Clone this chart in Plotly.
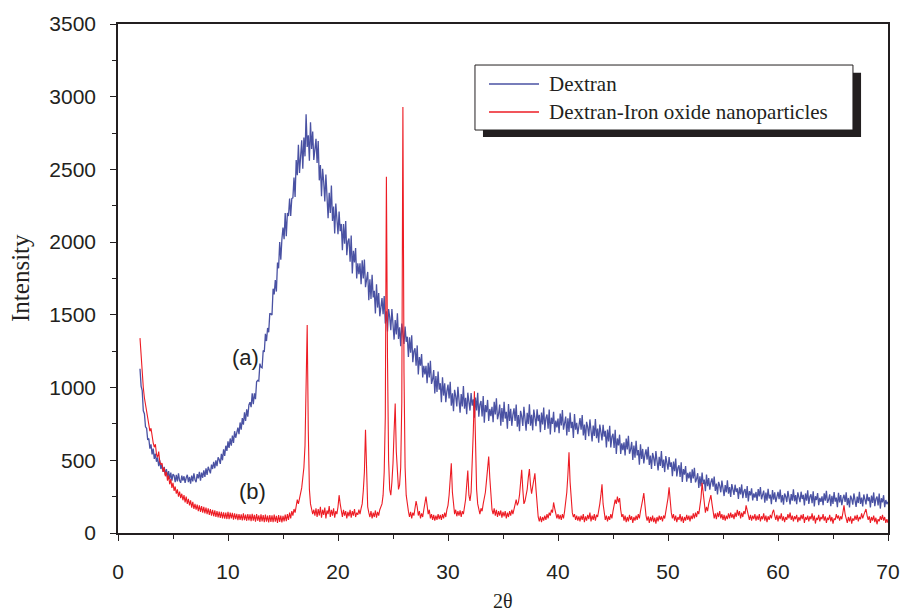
import plotly.graph_objects as go

# 2-theta sampling (start, step) shared by both scans
TT_START = 2.0
TT_STEP = 0.1

# Dextran intensity (2θ = 2.0 ... 70.0, step 0.1)
dextran = [
    1130, 1010, 980, 840, 820, 730, 720, 640, 650, 580, 610, 540, 580, 510, 545, 490, 520, 460, 500, 440,
    470, 420, 455, 400, 440, 385, 425, 370, 415, 360, 405, 395, 350, 400, 355, 410, 360, 345, 395, 360,
    390, 345, 380, 400, 350, 385, 340, 395, 355, 410, 365, 350, 405, 375, 420, 360, 415, 380, 430, 385,
    445, 400, 455, 430, 410, 470, 440, 490, 445, 500, 460, 520, 505, 475, 545, 500, 575, 530, 600, 565,
    630, 585, 650, 600, 670, 620, 700, 655, 690, 725, 680, 760, 710, 790, 745, 830, 770, 850, 800, 880,
    900, 865, 960, 885, 960, 920, 1040, 1050, 1045, 1165, 1140, 1135, 1255, 1245, 1370, 1320, 1410, 1380, 1510, 1505,
    1500, 1680, 1640, 1740, 1660, 1860, 1820, 2000, 1880, 2020, 2100, 2020, 2200, 2040, 2200, 2180, 2300, 2180, 2300, 2305,
    2445, 2310, 2565, 2460, 2670, 2475, 2565, 2700, 2505, 2720, 2590, 2880, 2655, 2735, 2560, 2825, 2640, 2760, 2565, 2660,
    2710, 2545, 2695, 2425, 2530, 2315, 2505, 2415, 2280, 2465, 2290, 2165, 2340, 2200, 2390, 2145, 2245, 2060, 2265, 2125,
    2055, 2210, 2075, 2125, 1945, 2125, 1990, 2145, 1910, 2005, 2025, 1865, 2045, 1785, 1940, 1860, 1960, 1750, 1855, 1780,
    1855, 1710, 1875, 1750, 1880, 1690, 1730, 1795, 1600, 1745, 1610, 1775, 1620, 1665, 1510, 1710, 1550, 1650, 1490, 1575,
    1615, 1505, 1630, 1440, 1525, 1385, 1540, 1485, 1395, 1540, 1420, 1330, 1465, 1365, 1510, 1335, 1415, 1285, 1440, 1345,
    1300, 1420, 1315, 1350, 1210, 1345, 1240, 1360, 1175, 1250, 1270, 1150, 1290, 1090, 1210, 1150, 1230, 1070, 1150, 1090,
    1150, 1030, 1170, 1070, 1185, 1025, 1055, 1120, 960, 1080, 970, 1110, 985, 1030, 900, 1070, 945, 1030, 900, 975,
    1020, 925, 1040, 875, 960, 837, 985, 940, 870, 1005, 900, 827, 955, 870, 1010, 855, 930, 817, 965, 883,
    842, 963, 875, 919, 793, 932, 843, 964, 800, 882, 908, 801, 941, 759, 880, 831, 915, 770, 853, 804,
    868, 762, 902, 815, 927, 782, 818, 883, 738, 860, 763, 903, 787, 833, 717, 886, 770, 854, 737, 812,
    857, 771, 884, 731, 811, 700, 840, 802, 736, 867, 771, 703, 826, 749, 885, 738, 812, 706, 849, 772,
    735, 851, 769, 812, 693, 829, 746, 863, 709, 790, 815, 717, 849, 677, 793, 750, 833, 693, 773, 726,
    787, 687, 822, 739, 846, 710, 745, 800, 671, 788, 695, 829, 721, 765, 654, 818, 710, 758, 680, 750,
    791, 711, 811, 671, 745, 640, 764, 728, 665, 781, 693, 630, 738, 667, 783, 652, 718, 621, 746, 675,
    637, 744, 663, 702, 588, 711, 630, 737, 588, 661, 682, 585, 709, 543, 650, 603, 676, 544, 617, 570,
    624, 533, 650, 575, 668, 545, 574, 626, 502, 602, 518, 634, 534, 570, 470, 610, 510, 578, 478, 538,
    575, 505, 592, 468, 533, 440, 550, 516, 461, 563, 485, 430, 524, 461, 563, 448, 505, 419, 529, 466,
    435, 522, 455, 486, 391, 492, 425, 512, 389, 448, 465, 385, 487, 351, 439, 401, 461, 353, 413, 375,
    420, 344, 438, 375, 449, 348, 370, 411, 310, 390, 321, 416, 336, 367, 287, 402, 322, 378, 298, 349,
    376, 319, 388, 289, 340, 265, 352, 325, 280, 361, 298, 254, 330, 280, 362, 270, 316, 248, 336, 286,
    262, 332, 282, 307, 234, 315, 265, 334, 239, 287, 302, 241, 323, 217, 288, 259, 307, 224, 272, 244,
    282, 220, 302, 251, 316, 232, 254, 291, 208, 278, 222, 304, 237, 264, 198, 296, 230, 279, 213, 256,
    283, 233, 299, 210, 260, 194, 272, 251, 213, 289, 234, 196, 267, 222, 300, 218, 260, 198, 280, 236,
    212, 284, 234, 262, 190, 272, 222, 294, 200, 249, 266, 205, 287, 183, 253, 227, 275, 192, 242, 214,
    252, 191, 273, 223, 290, 207, 228, 266, 184, 255, 200, 282, 216, 243, 178, 276, 210, 260, 192, 237,
    263, 213, 279, 191, 241, 175, 257, 235, 195, 272, 217, 179, 250, 206, 283, 200, 244, 182, 265, 221,
    197, 269, 219, 246, 175, 257, 207, 279, 185, 235, 251, 190, 272, 168, 239, 211, 260, 177, 227, 198,
    215,
]

# Dextran-Iron oxide nanoparticles intensity (same 2θ sampling)
dextran_iron = [
    1340, 1200, 1090, 1000, 930, 880, 830, 790, 760, 700, 720, 650, 620, 590, 610, 540, 520, 560, 490, 470,
    480, 420, 450, 390, 420, 360, 395, 335, 370, 310, 345, 290, 320, 270, 300, 250, 285, 240, 270, 225,
    260, 210, 250, 200, 235, 190, 225, 175, 215, 165, 200, 160, 195, 150, 190, 145, 185, 140, 180, 135,
    175, 130, 170, 125, 165, 120, 160, 115, 155, 110, 150, 108, 148, 104, 145, 100, 142, 98, 140, 96,
    145, 95, 140, 100, 138, 92, 135, 95, 132, 88, 130, 90, 128, 86, 135, 88, 126, 84, 130, 86,
    128, 82, 132, 85, 125, 78, 130, 84, 122, 76, 128, 80, 124, 74, 126, 78, 120, 72, 124, 76,
    122, 74, 126, 78, 118, 70, 124, 76, 120, 72, 118, 80, 126, 82, 130, 90, 140, 100, 150, 120,
    165, 140, 190, 230, 200, 240, 260, 310, 380, 450, 600, 1000, 1430, 700, 300, 200, 170, 130, 160, 120,
    170, 110, 165, 120, 180, 105, 160, 125, 175, 100, 155, 130, 185, 110, 160, 120, 170, 105, 150, 130,
    180, 260, 200, 150, 110, 160, 120, 150, 100, 145, 115, 160, 105, 150, 120, 165, 110, 140, 125, 160,
    130, 170, 200, 290, 420, 710, 360, 180, 140, 110, 150, 100, 140, 110, 155, 105, 145, 120, 160, 180,
    200, 260, 420, 800, 2450, 1200, 500, 300, 260, 350, 480, 700, 890, 560, 380, 300, 330, 450, 900, 2930,
    1100, 450, 260, 180, 150, 110, 145, 100, 140, 120, 170, 220, 180, 120, 150, 100, 135, 110, 160, 200,
    250, 190, 130, 160, 100, 130, 90, 125, 85, 120, 90, 130, 95, 125, 90, 130, 100, 140, 110, 160,
    190, 260, 400, 480, 280, 170, 130, 160, 115, 150, 120, 155, 110, 150, 130, 180, 230, 330, 430, 260,
    220, 280, 450, 700, 975, 560, 300, 200, 160, 130, 170, 150, 200, 240, 280, 360, 450, 525, 380, 220,
    160, 130, 170, 120, 160, 110, 150, 120, 155, 105, 145, 115, 150, 100, 140, 110, 150, 120, 160, 130,
    170, 200, 230, 190, 210, 260, 330, 435, 300, 200, 220, 260, 300, 380, 440, 330, 270, 320, 380, 410,
    300, 160, 110, 80, 115, 75, 110, 85, 120, 90, 130, 100, 140, 120, 160, 140, 210, 170, 130, 100,
    130, 95, 125, 90, 130, 100, 150, 200, 280, 400, 555, 350, 200, 140, 110, 130, 90, 120, 85, 115,
    80, 120, 90, 130, 75, 115, 85, 125, 95, 140, 80, 120, 90, 130, 85, 125, 110, 150, 200, 260,
    335, 200, 130, 90, 120, 80, 115, 90, 130, 100, 150, 180, 230, 200, 250, 210, 240, 160, 110, 130,
    85, 120, 75, 110, 80, 125, 90, 115, 70, 110, 85, 120, 90, 130, 100, 150, 180, 230, 275, 180,
    120, 85, 115, 70, 110, 80, 120, 75, 105, 65, 110, 80, 120, 90, 115, 80, 120, 100, 140, 180,
    240, 315, 220, 140, 100, 130, 85, 120, 75, 110, 90, 130, 80, 115, 70, 110, 85, 125, 90, 120,
    80, 120, 95, 135, 100, 140, 110, 150, 130, 180, 240, 345, 260, 170, 140, 180, 150, 200, 230, 260,
    200, 140, 100, 135, 95, 140, 110, 150, 100, 130, 90, 125, 85, 120, 95, 135, 100, 140, 105, 130,
    95, 140, 110, 160, 120, 150, 100, 140, 110, 150, 130, 190, 150, 120, 90, 125, 85, 120, 95, 130,
    85, 120, 90, 130, 80, 115, 95, 135, 85, 120, 75, 115, 90, 125, 100, 140, 160, 120, 90, 125,
    80, 120, 95, 135, 85, 115, 75, 110, 90, 130, 100, 140, 90, 120, 80, 115, 95, 125, 75, 110,
    85, 125, 95, 130, 70, 110, 90, 120, 80, 115, 95, 135, 85, 120, 65, 105, 90, 125, 80, 110,
    95, 130, 85, 115, 70, 105, 90, 125, 80, 110, 65, 100, 90, 130, 100, 120, 85, 115, 95, 140,
    190, 130, 100, 70, 110, 80, 115, 65, 100, 85, 120, 90, 125, 80, 110, 95, 135, 100, 125, 140,
    165, 120, 90, 115, 70, 110, 85, 120, 75, 105, 60, 95, 80, 115, 90, 125, 85, 110, 70, 95,
    70,
]

series_names = ["Dextran", "Dextran-Iron oxide nanoparticles"]
series_colors = ["#4a52a3", "#ed1c24"]
x_ticks = [0, 10, 20, 30, 40, 50, 60, 70]
y_ticks = [0, 500, 1000, 1500, 2000, 2500, 3000, 3500]

tt_d = [round(TT_START + TT_STEP * i, 1) for i in range(len(dextran))]
tt_f = [round(TT_START + TT_STEP * i, 1) for i in range(len(dextran_iron))]

INK = "#231f20"
SANS = "Liberation Sans, Arial, sans-serif"
SERIF = "Liberation Serif, Times New Roman, serif"

fig = go.Figure()
fig.add_trace(go.Scatter(x=tt_d, y=dextran, mode="lines", name=series_names[0],
                         line=dict(color=series_colors[0], width=1.3), showlegend=False))
fig.add_trace(go.Scatter(x=tt_f, y=dextran_iron, mode="lines", name=series_names[1],
                         line=dict(color=series_colors[1], width=1.1), showlegend=False))

axis_common = dict(showline=True, linecolor=INK, linewidth=1.5, mirror=True,
                   ticks="outside", ticklen=6, tickwidth=1.2, tickcolor=INK,
                   showgrid=False, zeroline=False, automargin=False,
                   tickfont=dict(family=SANS, size=21, color=INK))
fig.update_xaxes(range=[0, 70], tickvals=x_ticks, ticklabelstandoff=13,
                 minor=dict(dtick=5, ticks="outside", ticklen=4, tickcolor=INK, tickwidth=1.2),
                 **axis_common)
fig.update_yaxes(range=[0, 3500], tickvals=y_ticks, ticklabelstandoff=10,
                 minor=dict(dtick=250, ticks="outside", ticklen=4, tickcolor=INK, tickwidth=1.2),
                 **axis_common)

# manual legend with drop shadow
shapes = [
    dict(type="rect", xref="paper", yref="paper", x0=0.474, x1=0.965, y0=0.778, y1=0.904,
         fillcolor="#231f20", line=dict(width=0), layer="above"),
    dict(type="rect", xref="paper", yref="paper", x0=0.4636, x1=0.9545, y0=0.7917, y1=0.9194,
         fillcolor="white", line=dict(color=INK, width=1), layer="above"),
    dict(type="line", xref="paper", yref="paper", x0=0.4818, x1=0.5468, y0=0.8821, y1=0.8821,
         line=dict(color=series_colors[0], width=1.3), layer="above"),
    dict(type="line", xref="paper", yref="paper", x0=0.4818, x1=0.5468, y0=0.8271, y1=0.8271,
         line=dict(color=series_colors[1], width=1.3), layer="above"),
]
annotations = [
    dict(xref="paper", yref="paper", x=0.5571, y=0.8821, text=series_names[0], showarrow=False,
         xanchor="left", yanchor="middle", font=dict(family=SERIF, size=21, color=INK)),
    dict(xref="paper", yref="paper", x=0.5571, y=0.8271, text=series_names[1], showarrow=False,
         xanchor="left", yanchor="middle", font=dict(family=SERIF, size=21, color=INK)),
    dict(x=11.55, y=1204, text="(a)", showarrow=False, xanchor="center", yanchor="middle",
         font=dict(family=SANS, size=22, color=INK)),
    dict(x=12.2, y=282, text="(b)", showarrow=False, xanchor="center", yanchor="middle",
         font=dict(family=SANS, size=22, color=INK)),
    dict(xref="paper", yref="paper", x=-0.126, y=0.501, text="Intensity", textangle=-90,
         showarrow=False, xanchor="center", yanchor="middle",
         font=dict(family=SERIF, size=25, color=INK)),
    dict(xref="paper", yref="paper", x=0.5, y=-0.1336, text="2θ", showarrow=False,
         xanchor="center", yanchor="middle", font=dict(family=SERIF, size=20, color=INK)),
]

fig.update_layout(width=901, height=614, margin=dict(l=118, r=13, t=24, b=81),
                  paper_bgcolor="white", plot_bgcolor="white",
                  shapes=shapes, annotations=annotations)

# remove the default 8px page margin so the 901x614 figure fills the window exactly
fig.write_html("out.html", config={"displayModeBar": False},
               post_script="document.body.style.margin='0';document.body.style.overflow='hidden';")
